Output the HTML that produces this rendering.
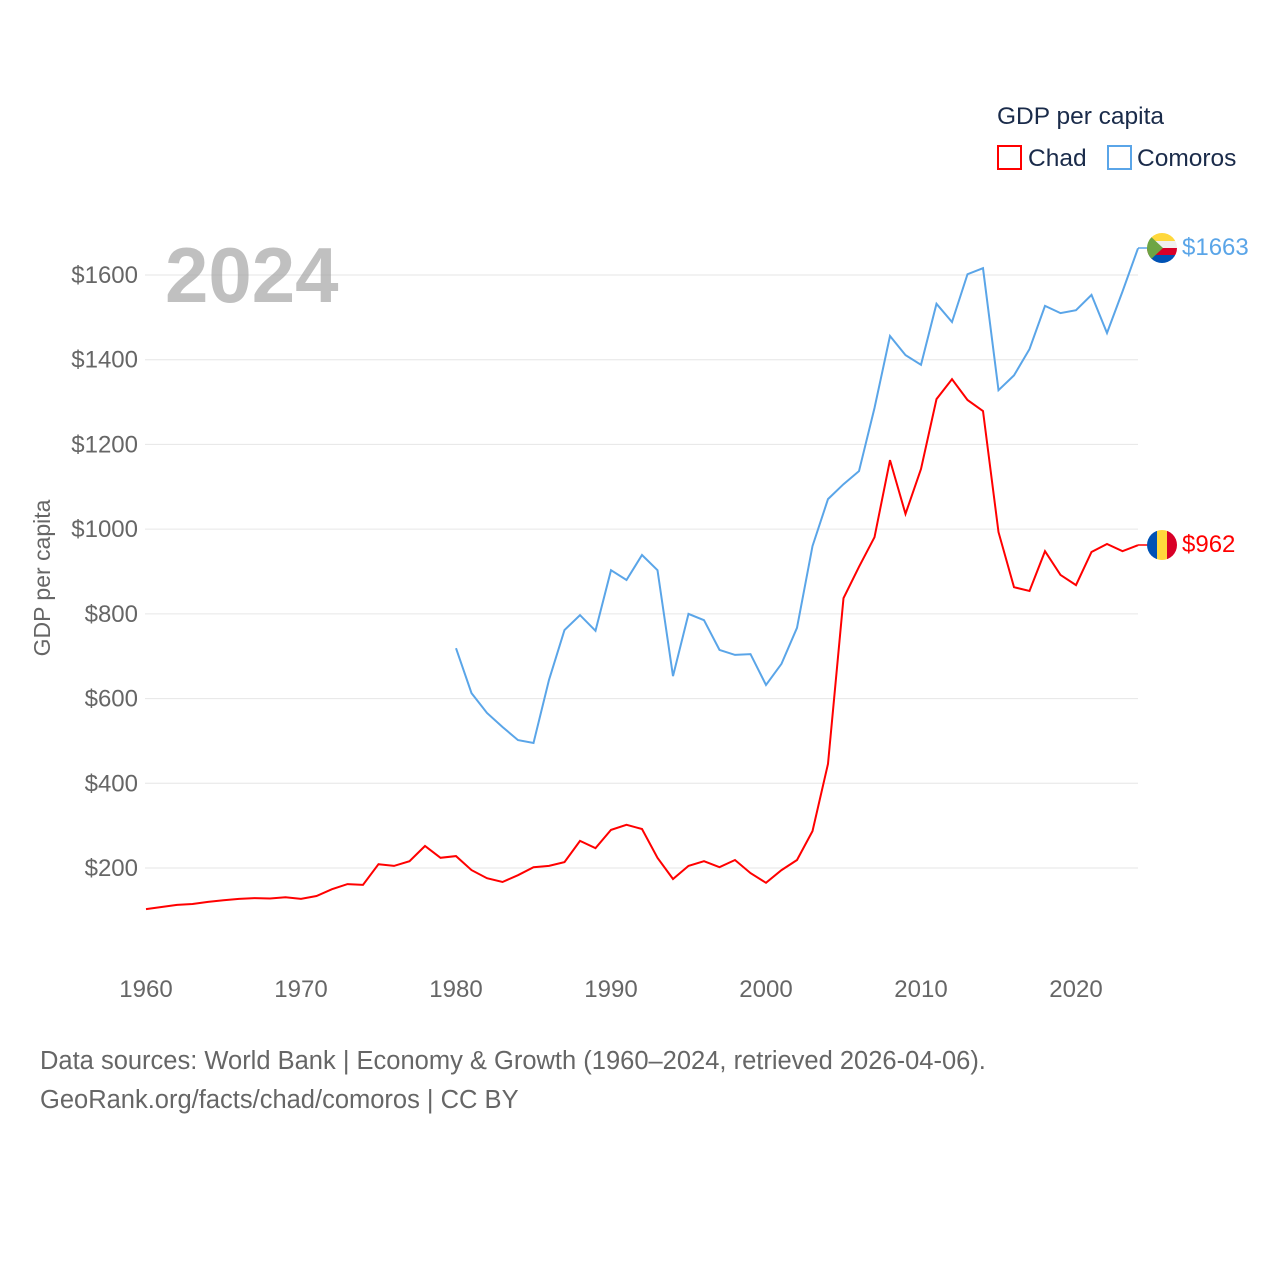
<!DOCTYPE html>
<html><head><meta charset="utf-8"><style>
body{margin:0;background:#fff;font-family:"Liberation Sans",sans-serif}
svg text{font-family:"Liberation Sans",sans-serif}
</style></head><body>
<svg id="chart" width="1280" height="1280" viewBox="0 0 1280 1280" xmlns="http://www.w3.org/2000/svg">
<defs>
<clipPath id="c1"><circle cx="1162" cy="248" r="15"/></clipPath>
<clipPath id="c2"><circle cx="1162" cy="545" r="15"/></clipPath>
</defs>
<g id="grid"></g>
<g id="yticks"></g>
<g id="xticks"></g>
<text x="0" y="0" transform="translate(50,578) rotate(-90)" text-anchor="middle" font-size="23" fill="#666">GDP per capita</text>
<text x="165" y="302" font-size="78" font-weight="bold" fill="#999" fill-opacity="0.62">2024</text>
<path id="chadLine" fill="none" stroke="#ff0000" stroke-width="2"/>
<path id="comLine" fill="none" stroke="#5aa5e8" stroke-width="2"/>
<line x1="1138" y1="248" x2="1148" y2="248" stroke="#5aa5e8" stroke-width="1.5"/>
<line x1="1138" y1="545" x2="1148" y2="545" stroke="#ff0000" stroke-width="1.5"/>
<g clip-path="url(#c1)">
<rect x="1147" y="233" width="30" height="8" fill="#ffd83c"/><rect x="1147" y="241" width="30" height="7" fill="#f0f0f0"/><rect x="1147" y="248" width="30" height="7" fill="#d80027"/><rect x="1147" y="255" width="30" height="8" fill="#0052b4"/>
<polygon points="1147,233 1163,248 1147,263" fill="#6da544"/></g>
<g clip-path="url(#c2)">
<rect x="1147" y="530" width="10" height="30" fill="#0052b4"/><rect x="1157" y="530" width="10" height="30" fill="#ffd83c"/><rect x="1167" y="530" width="10" height="30" fill="#d80027"/></g>
<text x="1182" y="255" font-size="24" fill="#5aa5e8">$1663</text>
<text x="1182" y="552" font-size="24" fill="#ff0000">$962</text>
<text x="997" y="124" font-size="24.5" fill="#1a2b4a">GDP per capita</text>
<rect x="998" y="146" width="23" height="23" fill="none" stroke="#ff0000" stroke-width="2"/>
<text x="1028" y="166" font-size="24.5" fill="#1a2b4a">Chad</text>
<rect x="1108" y="146" width="23" height="23" fill="none" stroke="#5aa5e8" stroke-width="2"/>
<text x="1137" y="166" font-size="24.5" fill="#1a2b4a">Comoros</text>
<text x="40" y="1069" font-size="25.5" fill="#666">Data sources: World Bank | Economy &amp; Growth (1960–2024, retrieved 2026-04-06).</text>
<text x="40" y="1108" font-size="25.5" fill="#666">GeoRank.org/facts/chad/comoros | CC BY</text>
</svg>
<script>
const years=[];for(let y=1960;y<=2024;y++)years.push(y);
const chad=[103,108,113,115,120,124,127,129,128,131,127,134,150,162,160,209,205,216,252,224,228,195,176,167,183,202,205,214,264,247,290,302,292,224,174,205,216,202,219,188,165,195,219,287,446,837,911,981,1163,1036,1142,1307,1354,1305,1279,993,863,854,948,892,868,946,965,948,962];
const comoros=[null,null,null,null,null,null,null,null,null,null,null,null,null,null,null,null,null,null,null,null,719,613,566,533,502,495,644,762,797,760,903,880,939,903,653,800,785,715,703,705,632,682,767,960,1071,1106,1137,1286,1456,1411,1388,1532,1489,1602,1616,1328,1363,1425,1527,1510,1517,1553,1463,1561,1663];
const yTicks=[200,400,600,800,1000,1200,1400,1600];
const xTicks=[1960,1970,1980,1990,2000,2010,2020];
const X=y=>146+(y-1960)*15.5;
const Y=v=>868-(v-200)*0.42357;
const NS="http://www.w3.org/2000/svg";
const g=document.getElementById('grid'),yt=document.getElementById('yticks'),xt=document.getElementById('xticks');
yTicks.forEach(v=>{
 const l=document.createElementNS(NS,'line');
 l.setAttribute('x1',145);l.setAttribute('x2',1138);l.setAttribute('y1',Y(v));l.setAttribute('y2',Y(v));
 l.setAttribute('stroke','#e6e6e6');l.setAttribute('stroke-width',1);
 
 
 g.appendChild(l);
 const t=document.createElementNS(NS,'text');
 t.setAttribute('x',138);t.setAttribute('y',Y(v)+8);t.setAttribute('text-anchor','end');
 t.setAttribute('font-size',24);t.setAttribute('fill','#666');t.textContent='$'+v;
 
 
 yt.appendChild(t);
});
xTicks.forEach(v=>{
 const t=document.createElementNS(NS,'text');
 t.setAttribute('x',X(v));t.setAttribute('y',997);t.setAttribute('text-anchor','middle');
 t.setAttribute('font-size',24);t.setAttribute('fill','#666');t.textContent=v;
 
 
 xt.appendChild(t);
});
function path(arr){let d='',pen=false;arr.forEach((v,i)=>{if(v==null){pen=false;return;}d+=(pen?'L':'M')+X(years[i]).toFixed(1)+','+Y(v).toFixed(1);pen=true;});return d;}
document.getElementById('chadLine').setAttribute('d',path(chad));
document.getElementById('comLine').setAttribute('d',path(comoros));
</script>
</body></html>
